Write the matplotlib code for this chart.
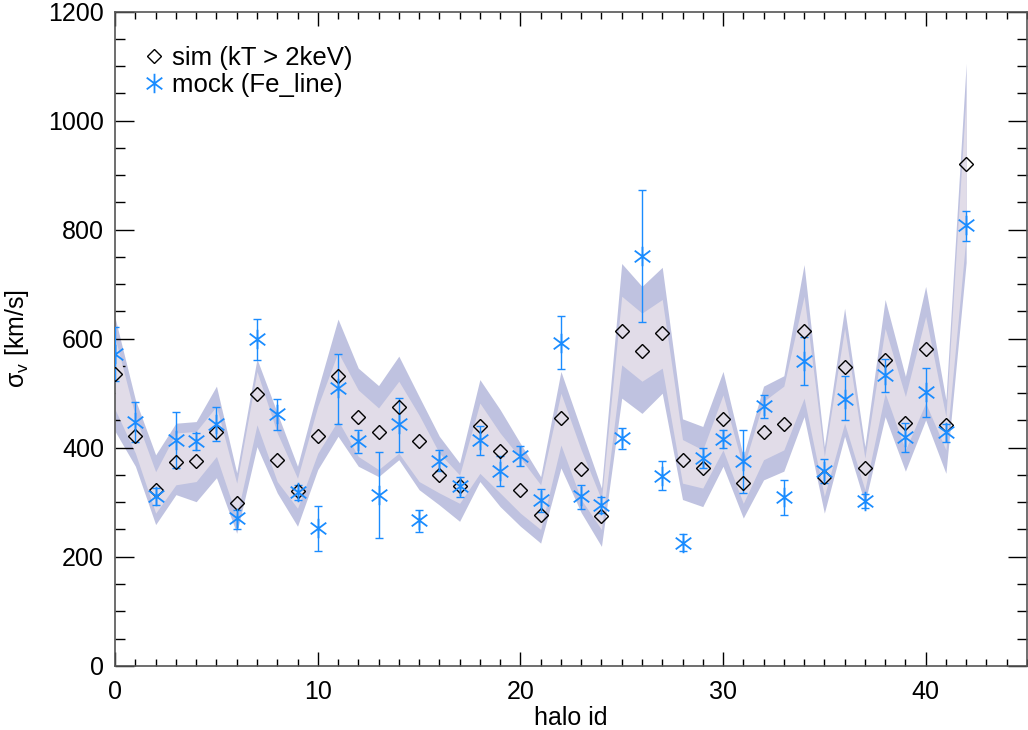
import matplotlib
matplotlib.use("Agg")
import matplotlib.pyplot as plt
import numpy as np
from matplotlib.path import Path
from matplotlib.ticker import MultipleLocator

plt.rcParams['font.family'] = ['Liberation Sans', 'DejaVu Sans']
plt.rcParams['mathtext.fontset'] = 'custom'
plt.rcParams['mathtext.rm'] = 'Liberation Sans'
plt.rcParams['mathtext.it'] = 'Liberation Sans'
plt.rcParams['mathtext.default'] = 'regular'

halo_id = list(range(43))

sim = [536, 421, 322, 373, 375, 428, 299, 499, 378, 320,
       421, 532, 457, 429, 475, 413, 350, 330, 440, 394,
       322, 276, 454, 361, 274, 615, 578, 610, 378, 363,
       453, 336, 428, 444, 615, 346, 548, 363, 561, 445,
       582, 441, 921]

mock = [572, 448, 312, 415, 412, 444, 271, 600, 462, 319,
        252, 509, 412, 314, 443, 267, 376, 329, 415, 358,
        385, 304, 593, 311, 295, 418, 752, 349, 225, 381,
        416, 375, 476, 309, 560, 358, 490, 303, 533, 419,
        502, 428, 808]
mock_lo = [522, 410, 295, 363, 396, 413, 251, 561, 433, 305,
           210, 444, 390, 235, 393, 246, 357, 309, 387, 329,
           366, 283, 544, 287, 281, 398, 631, 322, 210, 363,
           399, 317, 454, 277, 516, 335, 450, 289, 502, 393,
           457, 410, 779]
mock_hi = [621, 484, 327, 465, 427, 475, 286, 637, 490, 332,
           294, 572, 432, 392, 492, 286, 395, 347, 440, 384,
           404, 324, 641, 332, 309, 437, 872, 375, 242, 399,
           433, 433, 497, 341, 603, 379, 531, 316, 563, 445,
           546, 444, 835]

outer_hi = [638, 488, 387, 445, 448, 513, 354, 563, 464, 366,
            506, 636, 546, 514, 568, 494, 421, 372, 525, 470,
            408, 347, 540, 433, 326, 738, 696, 731, 453, 439,
            540, 384, 513, 532, 736, 402, 656, 402, 672, 531,
            696, 488, 1105]
inner_hi = [602, 457, 356, 427, 430, 476, 335, 540, 427, 344,
            476, 575, 506, 473, 522, 460, 390, 350, 482, 427,
            381, 332, 500, 396, 305, 678, 647, 672, 415, 396,
            497, 363, 485, 513, 678, 384, 619, 381, 619, 494,
            641, 457, 1050]
inner_lo = [470, 390, 280, 332, 338, 384, 274, 442, 338, 289,
            390, 450, 384, 360, 390, 338, 317, 298, 353, 317,
            280, 250, 405, 305, 250, 552, 522, 546, 335, 326,
            396, 298, 378, 396, 491, 311, 445, 323, 500, 396,
            482, 396, 790]
outer_lo = [430, 366, 259, 314, 301, 345, 243, 402, 317, 256,
            360, 421, 366, 347, 378, 323, 295, 265, 338, 292,
            256, 225, 363, 281, 219, 491, 463, 500, 305, 292,
            366, 271, 341, 357, 457, 280, 421, 298, 457, 357,
            451, 353, 740]

x = np.array(halo_id)
sim_a = np.array(sim)
mock_a = np.array(mock)
yerr = np.vstack([mock_a - np.array(mock_lo), np.array(mock_hi) - mock_a])

# asterisk marker: vertical line plus two diagonals
c, s = 0.80, 0.60
verts = [(0, -1), (0, 1), (-c, -s), (c, s), (-c, s), (c, -s)]
codes = [Path.MOVETO, Path.LINETO] * 3
star = Path(verts, codes)

fig = plt.figure(figsize=(10.28, 7.30), dpi=100)
ax = fig.add_axes([0.112, 0.088, 0.887, 0.896])

ax.fill_between(x, outer_lo, outer_hi, color='#bfc2e0', lw=0, zorder=1)
ax.fill_between(x, inner_lo, inner_hi, color='#e1dce8', lw=0, zorder=2)

blue = '#1a8cff'
ax.errorbar(x, mock_a, yerr=yerr, fmt='none', ecolor=blue, elinewidth=1.0,
            capsize=3.2, capthick=1.0, zorder=3)
ax.plot(x, sim_a, linestyle='none', marker='D', markersize=6.8,
        markerfacecolor='none', markeredgecolor='black', markeredgewidth=1.0,
        zorder=4, label='sim (kT > 2keV)')
ax.plot(x, mock_a, linestyle='none', marker=star, markersize=14,
        markeredgecolor=blue, markerfacecolor=blue, markeredgewidth=1.3,
        zorder=5, label='mock (Fe_line)')

ax.set_xlim(0, 45)
ax.set_ylim(0, 1200)
ax.xaxis.set_major_locator(MultipleLocator(10))
ax.xaxis.set_minor_locator(MultipleLocator(1))
ax.yaxis.set_major_locator(MultipleLocator(200))
ax.yaxis.set_minor_locator(MultipleLocator(50))

ax.tick_params(axis='both', which='both', direction='in', top=True, right=True,
               labelsize=18, width=1.0, color='black')
ax.tick_params(axis='x', which='major', length=10, pad=10)
ax.tick_params(axis='x', which='minor', length=5)
ax.tick_params(axis='y', which='major', length=14, pad=8)
ax.tick_params(axis='y', which='minor', length=7)
for sp in ax.spines.values():
    sp.set_color('#555555')
    sp.set_linewidth(1.2)

ax.set_xlabel('halo id', fontsize=18, labelpad=2)
ax.set_ylabel(r'$\sigma_{v}$ [km/s]', fontsize=18, labelpad=12)

leg = ax.legend(loc='upper left', frameon=False, fontsize=18.5, handlelength=0.8,
                handletextpad=0.3, borderaxespad=0.0, labelspacing=0.15,
                bbox_to_anchor=(0.020, 0.964))

fig.savefig('out.png', dpi=100)
